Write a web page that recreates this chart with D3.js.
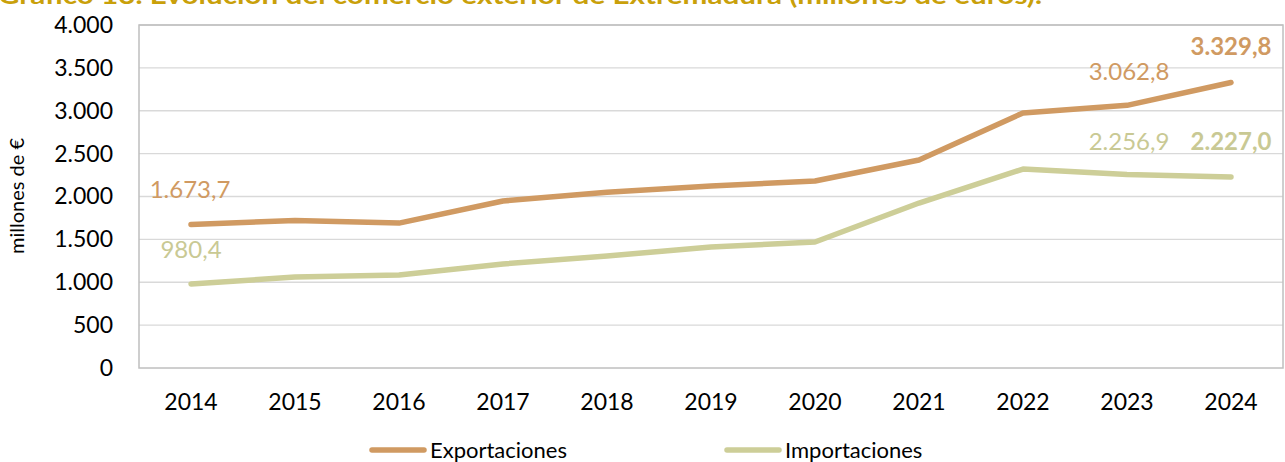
<!DOCTYPE html>
<html lang="es">
<head>
<meta charset="UTF-8">
<script src="https://d3js.org/d3.v7.min.js"></script>
<style>
  body { margin: 0; background: #fff; }
  svg { font-family: Lato, "Open Sans", sans-serif; }
  .grid line { stroke: #d9d9d9; stroke-width: 1.3px; }
</style>
</head>
<body>
<div id="chart"></div>
<script>
// data
var years = ["2014","2015","2016","2017","2018","2019","2020","2021","2022","2023","2024"];
var exportaciones = [1673.7, 1720, 1690, 1948, 2050, 2122, 2180, 2425, 2975, 3062.8, 3329.8];
var importaciones = [980.4, 1060, 1085, 1213, 1306, 1411, 1469, 1924, 2320, 2256.9, 2227.0];
var yTicks = [0, 500, 1000, 1500, 2000, 2500, 3000, 3500, 4000];
var title = "Gráfico 13. Evolución del comercio exterior de Extremadura (millones de euros).";

var W = 1285, H = 462;
var plot = {left: 139, right: 1283, top: 25, bottom: 368};
var colExp = "#d09a62", colImp = "#cdce98";

var fmt = function(v) {
  var s = v.toFixed(1).split(".");
  return s[0].replace(/\B(?=(\d{3})+(?!\d))/g, ".") + "," + s[1];
};
var fmtTick = function(v) { return String(v).replace(/\B(?=(\d{3})+(?!\d))/g, "."); };

var svg = d3.select("#chart").append("svg").attr("width", W).attr("height", H);

// title (cropped at top, as in the source)
svg.append("text").attr("x", -2).attr("y", 4)
  .attr("font-size", 24).attr("font-weight", "bold").attr("fill", "#c9a00a")
  .attr("textLength", 1044).attr("lengthAdjust", "spacingAndGlyphs")
  .text(title);

var x = d3.scaleBand().domain(years).range([plot.left, plot.right]);
var y = d3.scaleLinear().domain([0, 4000]).range([plot.bottom, plot.top]);

// gridlines
svg.append("g").attr("class", "grid").selectAll("line").data(yTicks.slice(1)).join("line")
  .attr("x1", plot.left).attr("x2", plot.right)
  .attr("y1", d => y(d)).attr("y2", d => y(d));

// plot border
svg.append("rect").attr("x", plot.left).attr("y", plot.top)
  .attr("width", plot.right - plot.left).attr("height", plot.bottom - plot.top)
  .attr("fill", "none").attr("stroke", "#bfbfbf").attr("stroke-width", 1.5);

// axes
var yAxis = svg.append("g").attr("transform", "translate(" + plot.left + ",0)")
  .call(d3.axisLeft(y).tickValues(yTicks).tickFormat(fmtTick).tickSize(0).tickPadding(26));
yAxis.select(".domain").remove();
yAxis.selectAll("text").attr("font-size", 23).attr("fill", "#000").attr("font-family", "Lato, sans-serif");

var xAxis = svg.append("g").attr("transform", "translate(0," + plot.bottom + ")")
  .call(d3.axisBottom(x).tickSize(0).tickPadding(26));
xAxis.select(".domain").remove();
xAxis.selectAll("text").attr("font-size", 23).attr("fill", "#000").attr("font-family", "Lato, sans-serif");

svg.append("text").attr("transform", "translate(24,196) rotate(-90)")
  .attr("text-anchor", "middle").attr("font-size", 20).text("millones de €");

// lines
var line = d3.line().x((d, i) => x(years[i]) + x.bandwidth() / 2).y(d => y(d));
[[importaciones, colImp], [exportaciones, colExp]].forEach(function(s) {
  svg.append("path").datum(s[0]).attr("d", line)
    .attr("fill", "none").attr("stroke", s[1]).attr("stroke-width", 5.5)
    .attr("stroke-linecap", "round").attr("stroke-linejoin", "round");
});

// data labels
var labels = [
  {s: exportaciones, i: 0, dx: -1, dy: -26, c: colExp, b: false},
  {s: exportaciones, i: 9, dx: 2, dy: -25, c: colExp, b: false},
  {s: exportaciones, i: 10, dx: 0, dy: -27, c: colExp, b: true},
  {s: importaciones, i: 0, dx: 0, dy: -26, c: "#c9c994", b: false},
  {s: importaciones, i: 9, dx: 2, dy: -24, c: "#c9c994", b: false},
  {s: importaciones, i: 10, dx: 0, dy: -27, c: "#c9c994", b: true}
];
labels.forEach(function(l) {
  svg.append("text")
    .attr("x", x(years[l.i]) + x.bandwidth() / 2 + l.dx)
    .attr("y", y(l.s[l.i]) + l.dy)
    .attr("text-anchor", "middle").attr("font-size", l.b ? 24 : 24)
    .attr("font-weight", l.b ? "bold" : "normal").attr("fill", l.c)
    .text(fmt(l.s[l.i]));
});

// legend
var legend = [["Exportaciones", colExp, 372], ["Importaciones", colImp, 727]];
legend.forEach(function(d) {
  svg.append("line").attr("x1", d[2]).attr("x2", d[2] + 52).attr("y1", 450).attr("y2", 450)
    .attr("stroke", d[1]).attr("stroke-width", 5.5).attr("stroke-linecap", "round");
  svg.append("text").attr("x", d[2] + 58).attr("y", 458).attr("font-size", 22).text(d[0]);
});
</script>
</body>
</html>
